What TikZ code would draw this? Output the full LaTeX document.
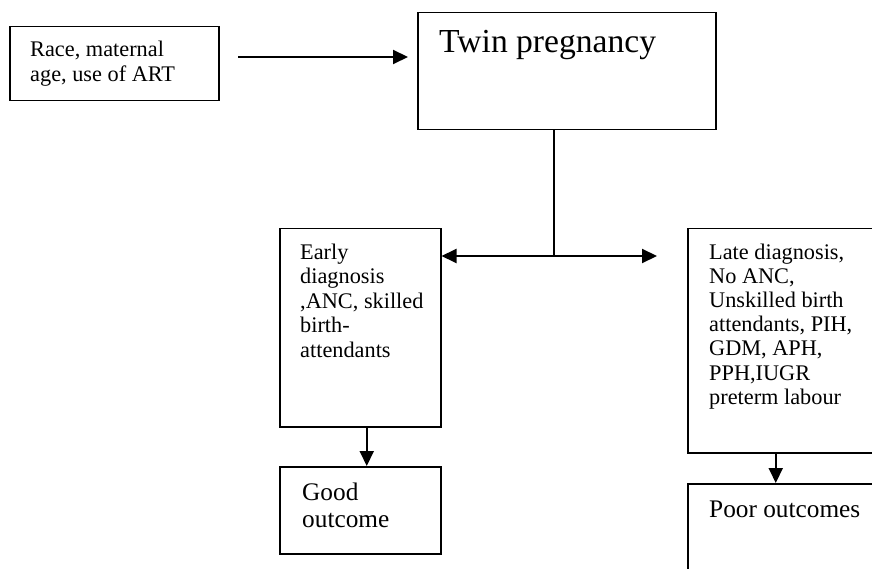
\documentclass[tikz,border=0pt]{standalone}
\usepackage{fontspec}
\setmainfont{Liberation Serif}
\usetikzlibrary{arrows.meta}
\tikzset{
  box/.style={draw=black, line width=1.5pt, anchor=north west, inner sep=0pt, rectangle},
  txt/.style={anchor=base west, inner sep=0pt, text=black},
  arr/.style={line width=2pt, -{Triangle[length=15pt,width=14pt]}},
  stem/.style={line width=1.5pt}
}
\newcommand\smalltext[2]{\parbox[t]{#1}{\raggedright\fontsize{22.3}{24.5}\selectfont #2}}
\begin{document}
\begin{tikzpicture}[x=1pt,y=-1pt]
\useasboundingbox (0,0) rectangle (872,569);
\clip (0,0) rectangle (872,569);
\fill[white] (0,0) rectangle (872,569);
% boxes
\node[box, minimum width=209pt, minimum height=74pt] (race) at (9,26) {};
\node[box, minimum width=298pt, minimum height=117pt] (twin) at (417,12) {};
\node[box, minimum width=161pt, minimum height=198pt] (early) at (279,228) {};
\node[box, minimum width=193pt, minimum height=224pt] (late) at (687,228) {};
\node[box, minimum width=161pt, minimum height=87pt] (good) at (279,466) {};
\node[box, minimum width=193pt, minimum height=120pt] (poor) at (687,483) {};
% texts
\node[txt] (racet) at (30,57) {\smalltext{200pt}{Race, maternal\\age, use of ART}};
\node[txt] (twint) at (439,53) {\fontsize{33.6}{38}\selectfont Twin pregnancy};
\node[txt] (earlyt) at (300,259) {\smalltext{150pt}{Early\\diagnosis\\,ANC, skilled\\birth-\\attendants}};
\node[txt] (latet) at (709,259) {\parbox[t]{200pt}{\raggedright\fontsize{22.3}{24.2}\selectfont Late diagnosis,\\No ANC,\\Unskilled birth\\attendants, PIH,\\GDM, APH,\\PPH,IUGR\\preterm labour}};
\node[txt] (goodt) at (302,500) {\parbox[t]{150pt}{\raggedright\fontsize{25.3}{27}\selectfont Good\\outcome}};
\node[txt] (poort) at (709,517) {\fontsize{25.3}{27}\selectfont Poor outcomes};
% connectors
\coordinate (a1) at (238,57);
\draw[arr] (a1) -- ([xshift=-9pt]twin.west |- a1);
\coordinate (j) at (554,256);
\draw[stem] (j |- twin.south) -- (j);
\draw[arr] (j) -- (early.east |- j);
\draw[arr] (j) -- ([xshift=-30pt]late.west |- j);
\draw[arr] ([xshift=6.5pt]early.south) -- ([xshift=6.5pt]good.north);
\draw[arr] ([xshift=-8.5pt]late.south) -- ([xshift=-8.5pt]poor.north);
\end{tikzpicture}
\end{document}
